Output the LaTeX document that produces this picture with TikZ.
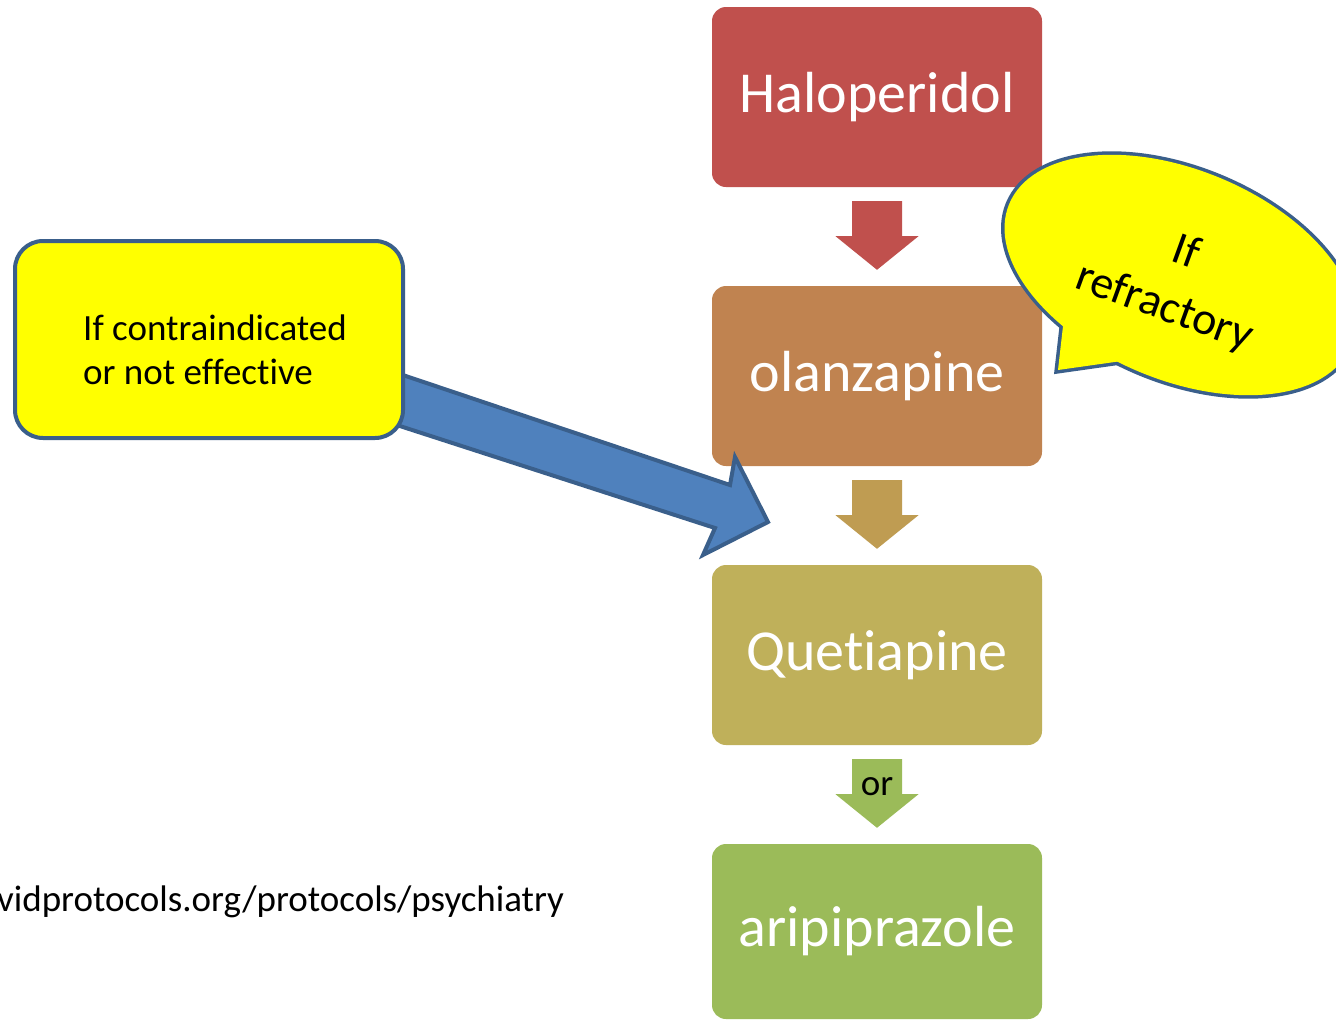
\documentclass[tikz,border=0pt]{standalone}
\usepackage{fontspec}
\setmainfont{Carlito}[Ligatures=NoCommon]
\usetikzlibrary{calc}
\definecolor{c1}{HTML}{C0504D}
\definecolor{c2}{HTML}{C08350}
\definecolor{c3}{HTML}{BFB05A}
\definecolor{c4}{HTML}{9BBB59}
\definecolor{a2}{HTML}{BF9C52}
\definecolor{bord}{HTML}{3A5F8B}
\definecolor{blu}{HTML}{4F81BD}
\definecolor{yel}{HTML}{FFFF00}
\newcommand\blockarrow[3]{%
  \fill[#3] ($(#1.south)+(-25,14)$) -- ($(#1.south)+(25,14)$) -- ($(#1.south)+(25,49)$)
    -- ($(#1.south)+(41.5,49)$) -- ($(#2.north)+(0,-16)$) -- ($(#1.south)+(-41.5,49)$)
    -- ($(#1.south)+(-25,49)$) -- cycle;}
\begin{document}
\begin{tikzpicture}[x=1pt,y=-1pt,
  drug/.style={fill=#1, rounded corners=14pt, minimum width=330pt, minimum height=180pt,
    text=white, font=\fontsize{58}{68}\selectfont, inner sep=0pt},
  txt/.style={font=\fontsize{37}{44}\selectfont, inner sep=0pt},
  bubtxt/.style={font=\fontsize{46}{60}\selectfont, inner sep=0pt, rotate=-20}]
\useasboundingbox (0,0) rectangle (1336,1020);
\clip (0,0) rectangle (1336,1020);
\fill[white] (0,0) rectangle (1336,1020);
% drug boxes
\node[drug=c1] (halo) at (877,97) {Haloperidol};
\node[drug=c2] (olan) at (877,376) {olanzapine};
\node[drug=c3] (quet) at (877,655) {Quetiapine};
\node[drug=c4, minimum height=175pt] (arip) at (877,931.5) {aripiprazole};
% block arrows
\blockarrow{halo}{olan}{c1}
\blockarrow{olan}{quet}{a2}
\blockarrow{quet}{arip}{c4}
\node[txt, anchor=base] (or) at (877,795) {or};
% blue arrow
\draw[bord, fill=blu, line width=4pt, line join=miter]
  (370,364) -- (730,485) -- (735,457) -- (768,522) -- (703,555) -- (715,528) -- (372,417) -- cycle;
% yellow box
\node[draw=bord, line width=4pt, fill=yel, rounded corners=28pt, minimum width=388pt,
  minimum height=197pt, anchor=north west, inner sep=0pt] (ybox) at (13,239) {};
\node[txt, anchor=base west] (yl1) at (83,340) {If contraindicated};
\node[txt, anchor=base west] (yl2) at (83,384) {or not effective};
% speech bubble
\draw[bord, line width=7pt, fill=yel] (1066,300) -- (1058,370) -- (1150,357) -- cycle;
\draw[bord, line width=7pt, fill=yel, rotate around={-22.6:(1180,275)}]
  (1180,275) ellipse [x radius=185, y radius=105];
\fill[yel, rotate around={-22.6:(1180,275)}]
  (1180,275) ellipse [x radius=185, y radius=105];
\fill[yel] (1066,300) -- (1058,370) -- (1150,357) -- cycle;
\node[bubtxt] (bub1) at (1187,250) {If};
\node[bubtxt] (bub2) at (1164,308) {refractory};
% url
\node[txt, anchor=base west] (url) at (-3,911) {vidprotocols.org/protocols/psychiatry};
\end{tikzpicture}
\end{document}
